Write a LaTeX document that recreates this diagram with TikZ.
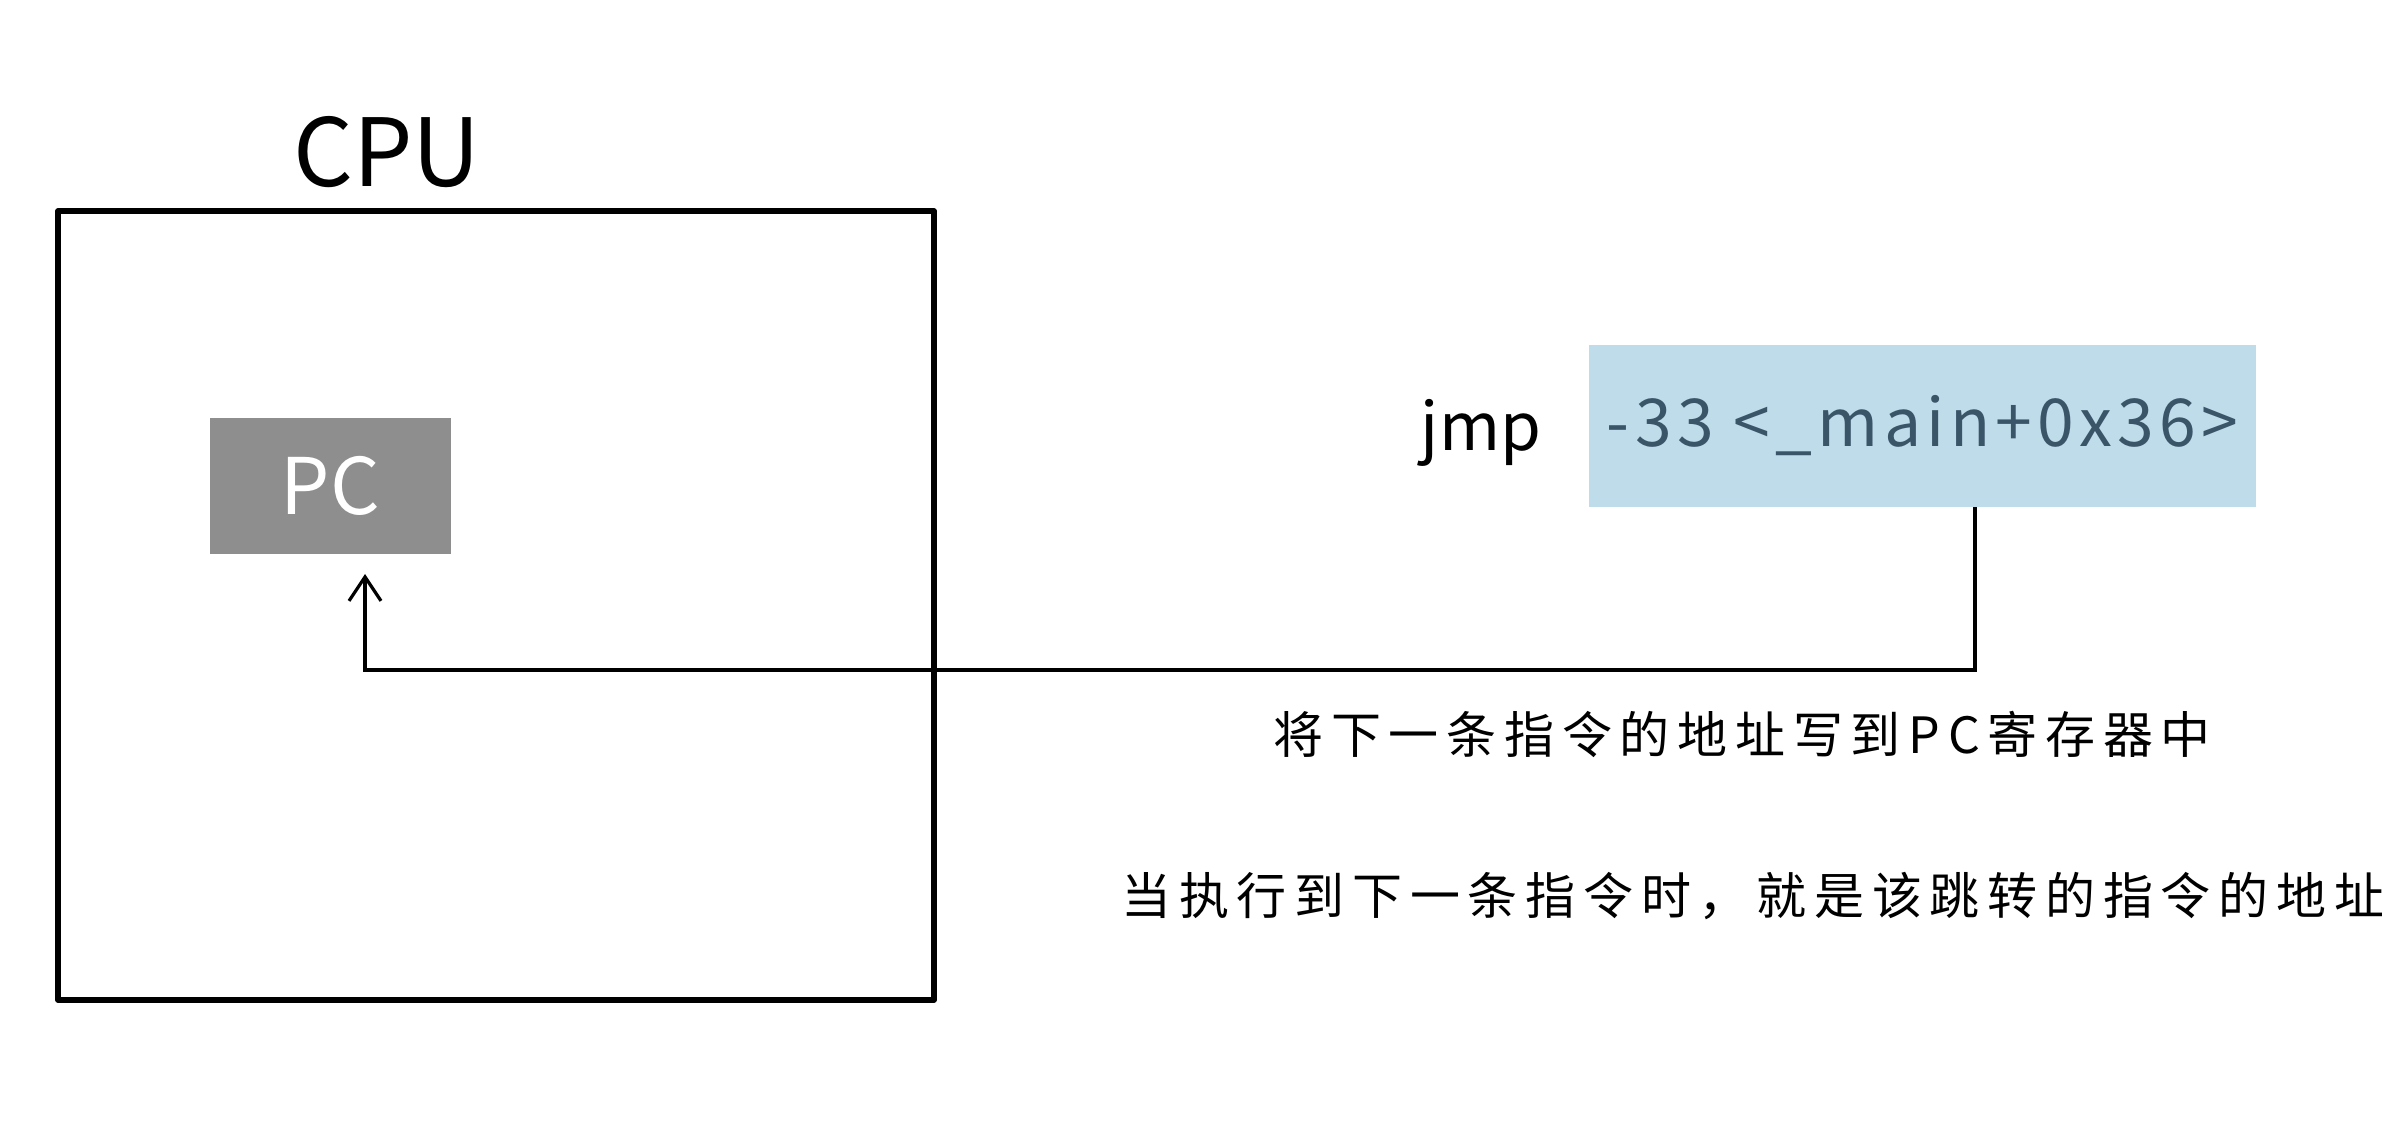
\documentclass[tikz,border=0pt]{standalone}
\usepackage{fontspec}
\setmainfont{Noto Sans CJK SC}
\newfontfamily\cjkfont[LetterSpace=15.5]{Noto Sans CJK SC}
\newfontfamily\codefont[LetterSpace=8]{Noto Sans CJK SC}
\usetikzlibrary{arrows.meta}
\definecolor{pcgray}{HTML}{8E8E8E}
\definecolor{lightblue}{HTML}{BFDCEA}
\definecolor{bluetext}{HTML}{3B5568}
\tikzset{
  cpubox/.style={draw=black, line width=2.8pt, line join=round},
  regbox/.style={fill=pcgray, text=white, minimum width=241*0.5pt, minimum height=136*0.5pt, inner sep=0pt, font=\fontsize{39pt}{44pt}\selectfont},
  instbox/.style={fill=lightblue, text=bluetext, minimum width=667*0.5pt, minimum height=162*0.5pt, inner sep=0pt, font=\codefont\fontsize{33pt}{40pt}\selectfont},
  plain/.style={inner sep=0pt},
  note/.style={inner sep=0pt, anchor=west, font=\cjkfont\fontsize{25pt}{30pt}\selectfont},
  conn/.style={draw=black, line width=2pt, line join=miter, -{Straight Barb[length=12pt,width=16pt,line width=1.6pt]}}
}
\begin{document}
\begin{tikzpicture}[x=0.5pt,y=-0.5pt]
\useasboundingbox[fill=white] (0,0) rectangle (2382,1138);
% CPU box
\node[cpubox, minimum width=876*0.5pt, minimum height=789*0.5pt, inner sep=0pt] (cpu) at (496,605.5) {};
\node[plain, font=\fontsize{47pt}{52pt}\selectfont] (cpulabel) at (387,152) {CPU};
% PC register
\node[regbox] (pc) at (330.5,486) {PC};
% instruction
\node[instbox] (inst) at (1922.5,426) {-33 <\_main+0x36>};
\node[plain, font=\fontsize{33pt}{40pt}\selectfont] (jmp) at (1481,433) {jmp};
% connector
\coordinate (c1) at (1975,670);
\coordinate (c2) at (365,670);
\coordinate (tip) at (365,574);
\draw[conn] (inst.south -| c1) -- (c1) -- (c2) -- (tip);
% notes
\node[note] (n1) at (1273,734) {将下一条指令的地址写到PC寄存器中};
\node[note] (n2) at (1121,896) {当执行到下一条指令时，就是该跳转的指令的地址};
\end{tikzpicture}
\end{document}
